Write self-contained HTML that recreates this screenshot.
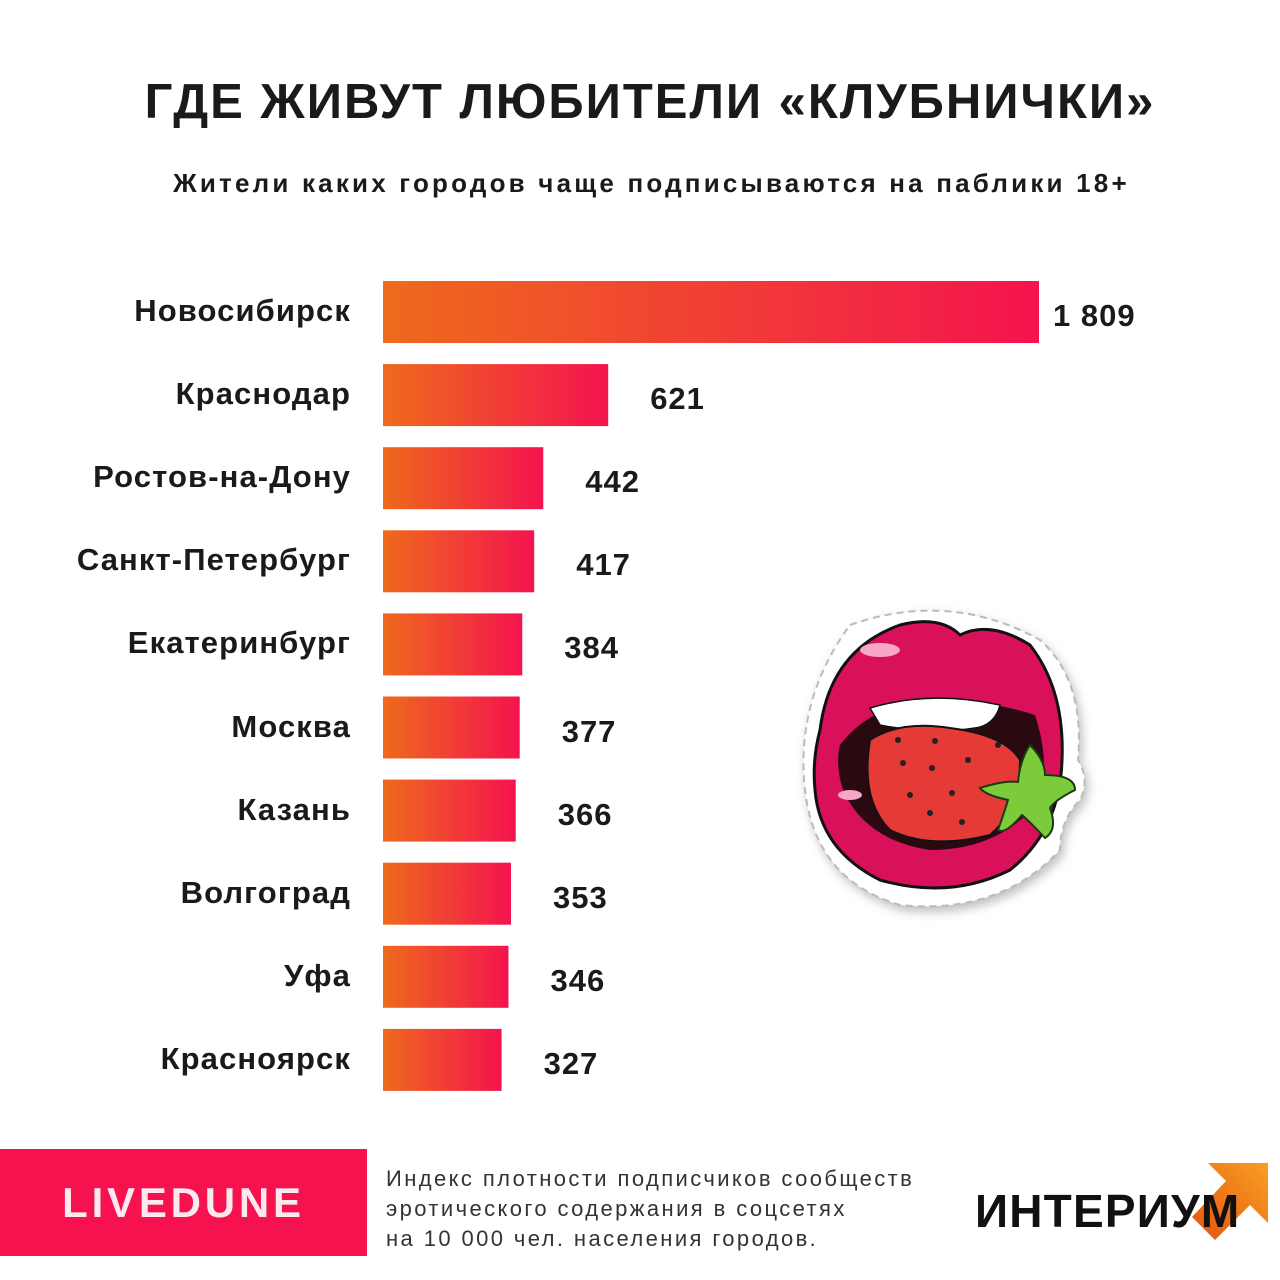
<!DOCTYPE html>
<html><head><meta charset="utf-8">
<style>
html,body{margin:0;padding:0;background:#fff;}
#root{position:relative;width:1280px;height:1280px;overflow:hidden;background:#fff;font-family:"Liberation Sans","DejaVu Sans",sans-serif;}
.t{position:absolute;white-space:nowrap;}
</style></head>
<body>
<div id="root">
<div class="t" style="left:0;width:1300px;text-align:center;top:74px;font-size:49px;font-weight:bold;color:#1a1a1a;letter-spacing:2px;">ГДЕ ЖИВУТ ЛЮБИТЕЛИ «КЛУБНИЧКИ»</div>
<div class="t" style="left:0;width:1303px;text-align:center;top:168px;font-size:26px;font-weight:bold;color:#1a1a1a;letter-spacing:3.2px;">Жители каких городов чаще подписываются на паблики 18+</div>
<svg id="chart" width="1280" height="1280" style="position:absolute;left:0;top:0;">
<defs>
<linearGradient id="bg" x1="0" y1="0" x2="1" y2="0">
<stop offset="0" stop-color="#ee6a1c"/><stop offset="1" stop-color="#f4134e"/>
</linearGradient>
<linearGradient id="ar" x1="0" y1="1" x2="1" y2="0">
<stop offset="0" stop-color="#e6520f"/><stop offset="1" stop-color="#f7a023"/>
</linearGradient>
</defs>
<g id="bars"></g>
<g>
<path d="M850 625 Q950 590 1040 640 Q1085 680 1078 760 Q1090 780 1080 800 Q1060 820 1060 850 Q1000 915 900 905 Q815 880 805 790 Q795 700 850 625Z" fill="#fff" stroke="#bbb" stroke-width="2" stroke-dasharray="7 5" filter="drop-shadow(3px 5px 5px rgba(0,0,0,0.25))"/>
<path d="M820 730 Q830 650 900 625 Q940 615 960 635 Q990 620 1030 645 Q1065 690 1062 760 Q1060 830 1010 870 Q950 900 880 880 Q820 850 815 790 Q812 760 820 730Z" fill="#d9115a" stroke="#111" stroke-width="3"/>
<path d="M840 745 Q870 705 930 700 Q990 700 1035 715 Q1050 760 1040 800 Q1000 850 930 850 Q865 840 843 790 Q835 765 840 745Z" fill="#2a0a10"/>
<path d="M870 708 Q930 690 1000 705 Q995 725 975 728 Q930 735 880 725Z" fill="#fff" stroke="#111" stroke-width="1.5"/>
<path d="M870 740 Q900 720 950 728 Q1005 735 1020 760 Q1020 810 990 835 Q930 850 890 830 Q860 800 870 740Z" fill="#e63a36" stroke="#111" stroke-width="2"/>
<g fill="#222">
<circle cx="898" cy="740" r="3"/><circle cx="935" cy="741" r="3"/><circle cx="998" cy="745" r="3"/>
<circle cx="903" cy="763" r="3"/><circle cx="932" cy="768" r="3"/><circle cx="968" cy="760" r="3"/>
<circle cx="910" cy="795" r="3"/><circle cx="952" cy="793" r="3"/><circle cx="930" cy="813" r="3"/><circle cx="962" cy="822" r="3"/>
</g>
<path d="M1030 745 Q1045 760 1045 775 Q1075 775 1075 790 Q1055 800 1050 808 Q1058 830 1045 838 Q1030 822 1022 815 Q1005 835 998 830 Q1005 810 1008 800 Q985 795 980 788 Q1005 780 1018 782 Q1020 760 1030 745Z" fill="#7ccb3a" stroke="#1a3a10" stroke-width="2"/>
<ellipse cx="880" cy="650" rx="20" ry="7" fill="#f7a7c6"/>
<ellipse cx="850" cy="795" rx="12" ry="5" fill="#f7a7c6"/>
</g>
<g>
<polygon points="1208,1163 1268,1163 1268,1223 1250,1205 1215,1240 1192,1217 1226,1181" fill="url(#ar)"/>
</g>
</svg>
<div id="labels"></div>
<div style="position:absolute;left:0;top:1149px;width:367px;height:107px;background:#f5124f;">
<div class="t" style="left:0;width:367px;text-align:center;top:30px;font-size:42px;font-weight:bold;color:#fce9ef;letter-spacing:3.8px;">LIVEDUNE</div>
</div>
<div class="t" style="left:386px;top:1164px;font-size:22px;line-height:30px;color:#333;letter-spacing:2.4px;">Индекс плотности подписчиков сообществ<br>эротического содержания в соцсетях<br>на 10 000 чел. населения городов.</div>
<div class="t" style="left:975px;top:1184px;font-size:46px;font-weight:bold;color:#111;letter-spacing:1.2px;">ИНТЕРИУМ</div>
</div>
<script>
const cities = ["Новосибирск","Краснодар","Ростов-на-Дону","Санкт-Петербург","Екатеринбург","Москва","Казань","Волгоград","Уфа","Красноярск"];
const values = [1809,621,442,417,384,377,366,353,346,327];
const valueLabels = ["1 809","621","442","417","384","377","366","353","346","327"];

const x0 = 383, pxPerUnit = 656/1809;
function xScale(v){ return x0 + v*pxPerUnit; }
function yScale(i){ return 281 + i*83.1; }
const barH = 62;
const ns = "http://www.w3.org/2000/svg";
const g = document.getElementById('bars');
const lab = document.getElementById('labels');
cities.forEach((c,i)=>{
  const r = document.createElementNS(ns,'rect');
  r.setAttribute('x',x0); r.setAttribute('y',yScale(i));
  r.setAttribute('width',xScale(values[i])-x0); r.setAttribute('height',barH);
  r.setAttribute('fill','url(#bg)');
  
  
  g.appendChild(r);
  const cl = document.createElement('div');
  cl.className='t';
  cl.style.cssText=`right:${1280-351}px;top:${yScale(i)+12}px;font-size:31px;font-weight:bold;color:#1a1a1a;letter-spacing:1.1px;`;
  cl.textContent=c;
  
  
  lab.appendChild(cl);
  const vl = document.createElement('div');
  vl.className='t';
  const gap = i===0 ? 14 : 42;
  vl.style.cssText=`left:${xScale(values[i])+gap}px;top:${yScale(i)+17}px;font-size:31px;font-weight:bold;color:#1a1a1a;letter-spacing:1px;`;
  vl.textContent=valueLabels[i];
  
  
  lab.appendChild(vl);
});
</script>
</body></html>
